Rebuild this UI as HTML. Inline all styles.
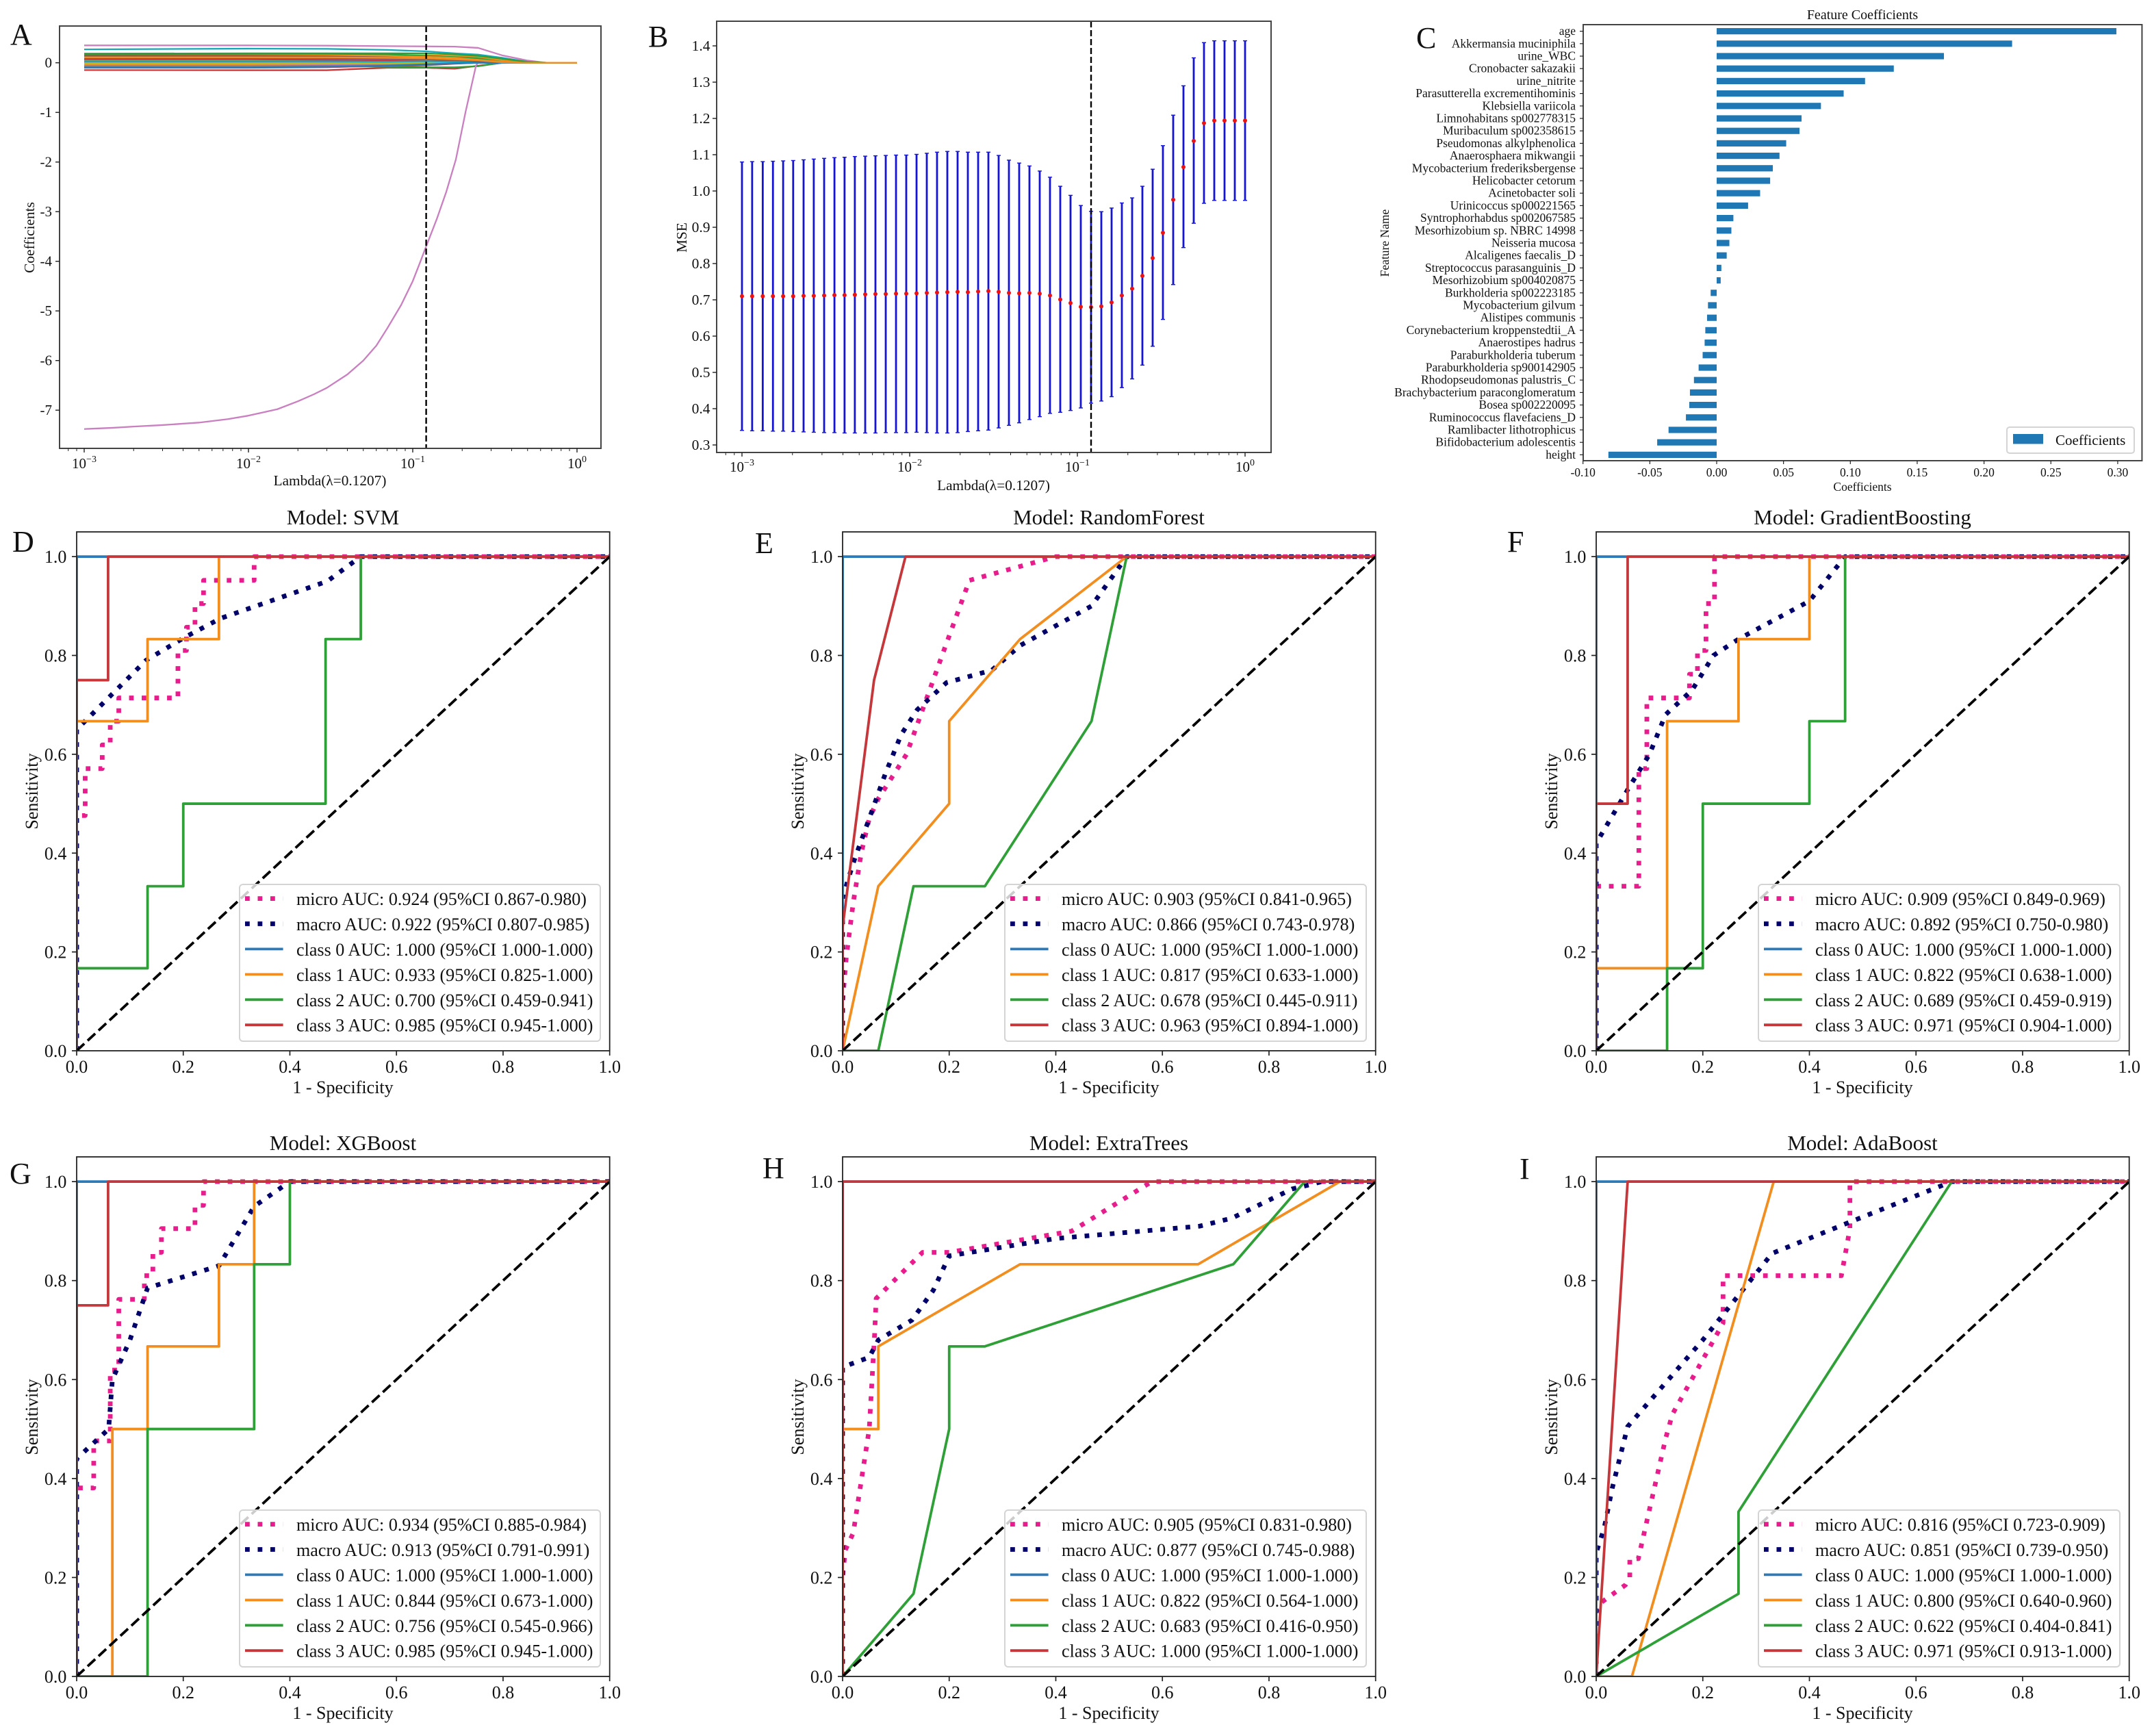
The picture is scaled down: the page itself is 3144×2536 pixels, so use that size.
<!DOCTYPE html>
<html lang="en">
<head>
<meta charset="utf-8">
<title>LASSO feature selection and ROC curves</title>
<style>
html,body{margin:0;padding:0;background:#fff;}
svg{display:block;}
text{font-family:"Liberation Serif","Times New Roman",serif;fill:#111;}
.letter{font-size:44px;}
.rt{font-size:31px;}
.rl{font-size:26px;}
.lg{font-size:26.1px;}
.ml{font-size:21.3px;}
.cl{font-size:17.5px;}
.mid{text-anchor:middle;}
.frame{fill:none;stroke:#222;}
.frame-top{fill:none;stroke:#444;}
.legend-box{fill:rgba(255,255,255,.8);stroke:#d4d4d4;stroke-width:2;}
</style>
</head>
<body>
<svg id="figure" xmlns="http://www.w3.org/2000/svg" width="3144" height="2536" viewBox="0 0 3144 2536">
<defs>
<clipPath id="clip-a"><rect x="87" y="38" width="791" height="617"/></clipPath>
<clipPath id="clip-roc-up"><rect x="0" y="-758" width="778.7" height="758"/></clipPath>
<clipPath id="clip-roc-low"><rect x="0" y="-759" width="778.7" height="759"/></clipPath>
<g id="legend-handles">
<line x1="8" x2="63.6" y1="20.6" y2="20.6" stroke="#e81c8c" stroke-width="6.8" stroke-dasharray="6.8 11.7"/>
<line x1="8" x2="63.6" y1="57.5" y2="57.5" stroke="#00006a" stroke-width="6.8" stroke-dasharray="6.8 11.7"/>
<line x1="8" x2="63.6" y1="94.4" y2="94.4" stroke="#2b7bba" stroke-width="3.8"/>
<line x1="8" x2="63.6" y1="131.4" y2="131.4" stroke="#f28e1f" stroke-width="3.8"/>
<line x1="8" x2="63.6" y1="168.3" y2="168.3" stroke="#2fa037" stroke-width="3.8"/>
<line x1="8" x2="63.6" y1="205.2" y2="205.2" stroke="#c5373b" stroke-width="3.8"/>
</g>
</defs>
<rect x="0" y="0" width="3144" height="2536" fill="#fff"/>

<!-- Panel A -->
<g>
<g id="a-marks" clip-path="url(#clip-a)"></g>
<rect class="frame-top" x="87" y="38" width="791" height="617" stroke-width="2"/>
<g id="a-axis"></g>
<text class="ml mid" x="482" y="709">Lambda(λ=0.1207)</text>
<text class="ml mid" x="50" y="347" transform="rotate(-90 50 347)">Coefficients</text>
<text class="letter" x="15" y="65">A</text>
</g>

<!-- Panel B -->
<g>
<g id="b-marks"></g>
<rect class="frame-top" x="1047" y="31" width="810" height="630" stroke-width="2"/>
<g id="b-axis"></g>
<text class="ml mid" x="1451.5" y="716">Lambda(λ=0.1207)</text>
<text class="ml mid" x="1003" y="347" transform="rotate(-90 1003 347)">MSE</text>
<text class="letter" x="947" y="68">B</text>
</g>

<!-- Panel C -->
<g>
<text class="mid" font-size="20" x="2721" y="28">Feature Coefficients</text>
<g id="c-marks"></g>
<rect class="frame-top" x="2313" y="36" width="816.4" height="637" stroke-width="2"/>
<g id="c-axis"></g>
<text class="cl mid" x="2721" y="717">Coefficients</text>
<text class="cl mid" x="2029" y="355" transform="rotate(-90 2029 355)">Feature Name</text>
<g>
<rect class="legend-box" x="2932" y="624" width="186" height="38" rx="4" stroke-width="1.5"/>
<rect x="2941" y="634" width="44" height="14.5" fill="#1f77b4"/>
<text font-size="21" x="3003" y="650">Coefficients</text>
</g>
<text class="letter" x="2069" y="70">C</text>
</g>

<!-- Panel D -->
<g transform="translate(112,1535)">
<text class="rt mid" x="389" y="-769">Model: SVM</text>
<g id="roc-d-marks" clip-path="url(#clip-roc-up)"></g>
<rect class="frame" x="0" y="-758" width="778.7" height="758" stroke-width="1.8"/>
<g id="roc-d-axis"></g>
<text class="rl mid" x="389" y="62">1 - Specificity</text>
<text class="rl mid" x="-57" y="-379" transform="rotate(-90 -57 -379)">Sensitivity</text>
<g transform="translate(238,-243)">
<rect class="legend-box" x="0" y="0" width="527" height="229" rx="5"/>
<use href="#legend-handles"/>
<text class="lg" x="83" y="30">micro AUC: 0.924 (95%CI 0.867-0.980)</text>
<text class="lg" x="83" y="67">macro AUC: 0.922 (95%CI 0.807-0.985)</text>
<text class="lg" x="83" y="104">class 0 AUC: 1.000 (95%CI 1.000-1.000)</text>
<text class="lg" x="83" y="141">class 1 AUC: 0.933 (95%CI 0.825-1.000)</text>
<text class="lg" x="83" y="178">class 2 AUC: 0.700 (95%CI 0.459-0.941)</text>
<text class="lg" x="83" y="214.5">class 3 AUC: 0.985 (95%CI 0.945-1.000)</text>
</g>
</g>
<text class="letter" x="18" y="806">D</text>

<!-- Panel E -->
<g transform="translate(1231,1535)">
<text class="rt mid" x="389" y="-769">Model: RandomForest</text>
<g id="roc-e-marks" clip-path="url(#clip-roc-up)"></g>
<rect class="frame" x="0" y="-758" width="778.7" height="758" stroke-width="1.8"/>
<g id="roc-e-axis"></g>
<text class="rl mid" x="389" y="62">1 - Specificity</text>
<text class="rl mid" x="-57" y="-379" transform="rotate(-90 -57 -379)">Sensitivity</text>
<g transform="translate(237,-243)">
<rect class="legend-box" x="0" y="0" width="528" height="229" rx="5"/>
<use href="#legend-handles"/>
<text class="lg" x="83" y="30">micro AUC: 0.903 (95%CI 0.841-0.965)</text>
<text class="lg" x="83" y="67">macro AUC: 0.866 (95%CI 0.743-0.978)</text>
<text class="lg" x="83" y="104">class 0 AUC: 1.000 (95%CI 1.000-1.000)</text>
<text class="lg" x="83" y="141">class 1 AUC: 0.817 (95%CI 0.633-1.000)</text>
<text class="lg" x="83" y="178">class 2 AUC: 0.678 (95%CI 0.445-0.911)</text>
<text class="lg" x="83" y="214.5">class 3 AUC: 0.963 (95%CI 0.894-1.000)</text>
</g>
</g>
<text class="letter" x="1103" y="808">E</text>

<!-- Panel F -->
<g transform="translate(2332,1535)">
<text class="rt mid" x="389" y="-769">Model: GradientBoosting</text>
<g id="roc-f-marks" clip-path="url(#clip-roc-up)"></g>
<rect class="frame" x="0" y="-758" width="778.7" height="758" stroke-width="1.8"/>
<g id="roc-f-axis"></g>
<text class="rl mid" x="389" y="62">1 - Specificity</text>
<text class="rl mid" x="-57" y="-379" transform="rotate(-90 -57 -379)">Sensitivity</text>
<g transform="translate(237,-243)">
<rect class="legend-box" x="0" y="0" width="528" height="229" rx="5"/>
<use href="#legend-handles"/>
<text class="lg" x="83" y="30">micro AUC: 0.909 (95%CI 0.849-0.969)</text>
<text class="lg" x="83" y="67">macro AUC: 0.892 (95%CI 0.750-0.980)</text>
<text class="lg" x="83" y="104">class 0 AUC: 1.000 (95%CI 1.000-1.000)</text>
<text class="lg" x="83" y="141">class 1 AUC: 0.822 (95%CI 0.638-1.000)</text>
<text class="lg" x="83" y="178">class 2 AUC: 0.689 (95%CI 0.459-0.919)</text>
<text class="lg" x="83" y="214.5">class 3 AUC: 0.971 (95%CI 0.904-1.000)</text>
</g>
</g>
<text class="letter" x="2202" y="806">F</text>

<!-- Panel G -->
<g transform="translate(112,2449)">
<text class="rt mid" x="389" y="-769">Model: XGBoost</text>
<g id="roc-g-marks" clip-path="url(#clip-roc-low)"></g>
<rect class="frame" x="0" y="-759" width="778.7" height="759" stroke-width="1.8"/>
<g id="roc-g-axis"></g>
<text class="rl mid" x="389" y="62">1 - Specificity</text>
<text class="rl mid" x="-57" y="-379" transform="rotate(-90 -57 -379)">Sensitivity</text>
<g transform="translate(238,-243)">
<rect class="legend-box" x="0" y="0" width="527" height="229" rx="5"/>
<use href="#legend-handles"/>
<text class="lg" x="83" y="30">micro AUC: 0.934 (95%CI 0.885-0.984)</text>
<text class="lg" x="83" y="67">macro AUC: 0.913 (95%CI 0.791-0.991)</text>
<text class="lg" x="83" y="104">class 0 AUC: 1.000 (95%CI 1.000-1.000)</text>
<text class="lg" x="83" y="141">class 1 AUC: 0.844 (95%CI 0.673-1.000)</text>
<text class="lg" x="83" y="178">class 2 AUC: 0.756 (95%CI 0.545-0.966)</text>
<text class="lg" x="83" y="214.5">class 3 AUC: 0.985 (95%CI 0.945-1.000)</text>
</g>
</g>
<text class="letter" x="14" y="1729">G</text>

<!-- Panel H -->
<g transform="translate(1231,2449)">
<text class="rt mid" x="389" y="-769">Model: ExtraTrees</text>
<g id="roc-h-marks" clip-path="url(#clip-roc-low)"></g>
<rect class="frame" x="0" y="-759" width="778.7" height="759" stroke-width="1.8"/>
<g id="roc-h-axis"></g>
<text class="rl mid" x="389" y="62">1 - Specificity</text>
<text class="rl mid" x="-57" y="-379" transform="rotate(-90 -57 -379)">Sensitivity</text>
<g transform="translate(237,-243)">
<rect class="legend-box" x="0" y="0" width="528" height="229" rx="5"/>
<use href="#legend-handles"/>
<text class="lg" x="83" y="30">micro AUC: 0.905 (95%CI 0.831-0.980)</text>
<text class="lg" x="83" y="67">macro AUC: 0.877 (95%CI 0.745-0.988)</text>
<text class="lg" x="83" y="104">class 0 AUC: 1.000 (95%CI 1.000-1.000)</text>
<text class="lg" x="83" y="141">class 1 AUC: 0.822 (95%CI 0.564-1.000)</text>
<text class="lg" x="83" y="178">class 2 AUC: 0.683 (95%CI 0.416-0.950)</text>
<text class="lg" x="83" y="214.5">class 3 AUC: 1.000 (95%CI 1.000-1.000)</text>
</g>
</g>
<text class="letter" x="1114" y="1721">H</text>

<!-- Panel I -->
<g transform="translate(2332,2449)">
<text class="rt mid" x="389" y="-769">Model: AdaBoost</text>
<g id="roc-i-marks" clip-path="url(#clip-roc-low)"></g>
<rect class="frame" x="0" y="-759" width="778.7" height="759" stroke-width="1.8"/>
<g id="roc-i-axis"></g>
<text class="rl mid" x="389" y="62">1 - Specificity</text>
<text class="rl mid" x="-57" y="-379" transform="rotate(-90 -57 -379)">Sensitivity</text>
<g transform="translate(237,-243)">
<rect class="legend-box" x="0" y="0" width="528" height="229" rx="5"/>
<use href="#legend-handles"/>
<text class="lg" x="83" y="30">micro AUC: 0.816 (95%CI 0.723-0.909)</text>
<text class="lg" x="83" y="67">macro AUC: 0.851 (95%CI 0.739-0.950)</text>
<text class="lg" x="83" y="104">class 0 AUC: 1.000 (95%CI 1.000-1.000)</text>
<text class="lg" x="83" y="141">class 1 AUC: 0.800 (95%CI 0.640-0.960)</text>
<text class="lg" x="83" y="178">class 2 AUC: 0.622 (95%CI 0.404-0.841)</text>
<text class="lg" x="83" y="214.5">class 3 AUC: 0.971 (95%CI 0.913-1.000)</text>
</g>
</g>
<text class="letter" x="2220" y="1722">I</text>
</svg>

<script>
// ---------- Panel A data ----------
const coefLambdaGrid = [0.001,0.01,0.03,0.07,0.1207,0.18,0.25,0.35,0.5,0.65,1];
const coefPaths = [
[.12,.12,.11,.10,.07,.05,.03,.01,0,0,0],
[.16,.16,.16,.16,.15,.14,.12,.05,.01,0,0],
[.17,.18,.18,.17,.14,.115,.09,.02,0,0,0],
[-.147,-.15,-.15,-.10,-.10,-.12,-.06,0,0,0,0],
[.09,.09,.08,.07,.05,.02,0,0,0,0,0],
[-.08,-.08,-.08,-.07,-.05,-.02,0,0,0,0,0],
[.35,.35,.345,.335,.33,.325,.30,.15,.045,0,0],
[.06,.06,.06,.05,.03,.01,0,0,0,0,0],
[.02,.02,.02,.01,0,0,0,0,0,0,0],
[.27,.285,.28,.26,.23,.19,.165,.10,.02,0,0],
[.04,.04,.04,.03,.01,0,0,0,0,0,0],
[.13,.13,.13,.13,.12,.10,.06,.02,0,0,0],
[-.04,-.04,-.06,-.08,-.09,-.09,-.07,0,0,0,0],
[-.10,-.10,-.09,-.06,-.03,-.01,0,0,0,0,0],
[.08,.08,.07,.06,.04,.02,0,0,0,0,0],
[.10,.10,.10,.09,.07,.04,.01,0,0,0,0],
[-.02,-.02,-.02,-.01,0,0,0,0,0,0,0],
[.05,.05,.04,.03,.01,0,0,0,0,0,0],
[.02,.02,.02,.01,.01,0,0,0,0,0,0],
[-.05,-.05,-.05,-.04,-.02,0,0,0,0,0,0],
[-.03,-.03,-.03,-.02,-.01,0,0,0,0,0,0],
[.185,.19,.19,.19,.19,.17,.14,.08,.02,0,0],
[.07,.07,.06,.05,.03,.01,0,0,0,0,0],
[.01,.01,.01,.01,0,0,0,0,0,0,0],
[.14,.14,.13,.11,.08,.05,.02,0,0,0,0],
[-.06,-.06,-.05,-.04,-.02,0,0,0,0,0,0],
[-.07,-.07,-.06,-.05,-.03,-.01,0,0,0,0,0],
[-.01,-.01,-.01,-.01,0,0,0,0,0,0,0],
[.03,.03,.03,.02,.03,.02,0,0,0,0,0],
[-.095,-.095,-.08,-.06,-.03,-.01,0,0,0,0,0],
[.11,.11,.11,.10,.09,.07,.05,.01,0,0,0]
];
const heightLambda = [0.001,0.0015,0.002,0.003,0.005,0.0075,0.01,0.015,0.02,0.025,0.03,0.04,0.05,0.06,0.07,0.085,0.1,0.11,0.1207,0.14,0.16,0.183,0.21,0.243,0.25,0.3,1];
const heightCoef = [-7.38,-7.355,-7.33,-7.3,-7.25,-7.18,-7.11,-6.98,-6.82,-6.68,-6.55,-6.28,-6,-5.7,-5.35,-4.88,-4.4,-4.05,-3.7,-3.15,-2.6,-1.95,-0.98,-0.05,0,0,0];
const lambdaSelected = [0.1207];
const logExponents = [-3,-2,-1,0];
const logExponentLabels = ['−3','−2','−1','0'];
const aYTicks = [0,-1,-2,-3,-4,-5,-6,-7];
const aYTickLabels = ['0','-1','-2','-3','-4','-5','-6','-7'];

// ---------- Panel B data ----------
const mseLambda = [0.00100,0.00115,0.00133,0.00153,0.00176,0.00202,0.00233,0.00268,0.00309,0.00356,0.00409,0.00471,0.00543,0.00625,0.00720,0.00829,0.00954,0.01099,0.01265,0.01456,0.01677,0.01931,0.02223,0.02560,0.02947,0.03393,0.03907,0.04498,0.05179,0.05964,0.06866,0.07906,0.09103,0.10481,0.12068,0.13895,0.15999,0.18421,0.21210,0.24421,0.28118,0.32375,0.37276,0.42919,0.49417,0.56899,0.65513,0.75431,0.86851,1.0];
const mseMean = [.710,.710,.710,.710,.710,.710,.711,.711,.712,.713,.713,.714,.715,.716,.716,.717,.717,.718,.719,.720,.721,.722,.721,.723,.724,.722,.719,.718,.719,.717,.712,.701,.691,.681,.680,.682,.693,.712,.731,.766,.815,.885,.976,1.066,1.138,1.187,1.194,1.194,1.194,1.194];
const mseUpper = [1.080,1.081,1.081,1.082,1.083,1.084,1.086,1.088,1.090,1.092,1.093,1.095,1.096,1.097,1.098,1.099,1.099,1.101,1.104,1.107,1.109,1.109,1.107,1.107,1.107,1.098,1.085,1.077,1.069,1.055,1.038,1.013,.988,.960,.944,.943,.953,.967,.981,1.013,1.060,1.125,1.209,1.290,1.367,1.409,1.414,1.414,1.414,1.414];
const mseLower = [.340,.339,.339,.338,.338,.337,.336,.335,.334,.334,.333,.333,.333,.333,.334,.334,.334,.335,.334,.333,.333,.334,.337,.339,.341,.347,.354,.361,.370,.378,.387,.390,.395,.402,.415,.421,.433,.458,.482,.520,.572,.646,.742,.844,.911,.966,.974,.974,.974,.974];
const bYTicks = [0.3,0.4,0.5,0.6,0.7,0.8,0.9,1.0,1.1,1.2,1.3,1.4];
const bYTickLabels = ['0.3','0.4','0.5','0.6','0.7','0.8','0.9','1.0','1.1','1.2','1.3','1.4'];

// ---------- Panel C data ----------
const featureNames = ['age','Akkermansia muciniphila','urine_WBC','Cronobacter sakazakii','urine_nitrite','Parasutterella excrementihominis','Klebsiella variicola','Limnohabitans sp002778315','Muribaculum sp002358615','Pseudomonas alkylphenolica','Anaerosphaera mikwangii','Mycobacterium frederiksbergense','Helicobacter cetorum','Acinetobacter soli','Urinicoccus sp000221565','Syntrophorhabdus sp002067585','Mesorhizobium sp. NBRC 14998','Neisseria mucosa','Alcaligenes faecalis_D','Streptococcus parasanguinis_D','Mesorhizobium sp004020875','Burkholderia sp002223185','Mycobacterium gilvum','Alistipes communis','Corynebacterium kroppenstedtii_A','Anaerostipes hadrus','Paraburkholderia tuberum','Paraburkholderia sp900142905','Rhodopseudomonas palustris_C','Brachybacterium paraconglomeratum','Bosea sp002220095','Ruminococcus flavefaciens_D','Ramlibacter lithotrophicus','Bifidobacterium adolescentis','height'];
const featureCoefs = [.299,.221,.170,.1325,.111,.095,.078,.0635,.062,.052,.047,.042,.040,.0325,.0235,.0125,.011,.0095,.0075,.0035,.003,-.0045,-.0065,-.0072,-.0085,-.009,-.0105,-.0135,-.017,-.020,-.0205,-.023,-.036,-.0445,-.081];
const cXTicks = [-0.10,-0.05,0,0.05,0.10,0.15,0.20,0.25,0.30];
const cXTickLabels = ['-0.10','-0.05','0.00','0.05','0.10','0.15','0.20','0.25','0.30'];

// ---------- ROC data ----------
const rocTicks = [0,0.2,0.4,0.6,0.8,1];
const rocTickLabels = ['0.0','0.2','0.4','0.6','0.8','1.0'];
const diagonal = [[0,0],[1,1]];
const class0Perfect = [[0,0],[0,1],[1,1]];

const svmMicro = [[0,0],[0,.476],[.016,.476],[.016,.571],[.048,.571],[.048,.619],[.063,.619],[.063,.667],[.079,.667],[.079,.714],[.19,.714],[.19,.81],[.206,.81],[.206,.857],[.222,.857],[.222,.905],[.238,.905],[.238,.952],[.333,.952],[.333,1],[1,1]];
const svmMacro = [[0,0],[0,.65],[.13,.79],[.2,.835],[.27,.875],[.47,.95],[.533,1],[1,1]];
const svmClass1 = [[0,0],[0,.667],[.133,.667],[.133,.833],[.267,.833],[.267,1],[1,1]];
const svmClass2 = [[0,0],[0,.167],[.133,.167],[.133,.333],[.2,.333],[.2,.5],[.467,.5],[.467,.833],[.533,.833],[.533,1],[1,1]];
const svmClass3 = [[0,0],[0,.75],[.059,.75],[.059,1],[1,1]];

const rfMicro = [[0,0],[0,.1],[.007,.19],[.02,.3],[.035,.4],[.05,.47],[.067,.51],[.12,.6],[.15,.69],[.19,.81],[.238,.952],[.4,1],[1,1]];
const rfMacro = [[0,0],[0,.31],[.02,.38],[.05,.47],[.08,.56],[.11,.64],[.14,.69],[.195,.745],[.28,.77],[.333,.82],[.467,.9],[.533,1],[1,1]];
const rfClass1 = [[0,0],[.067,.333],[.2,.5],[.2,.667],[.333,.833],[.533,1],[1,1]];
const rfClass2 = [[0,0],[.067,0],[.133,.333],[.267,.333],[.467,.667],[.533,1],[1,1]];
const rfClass3 = [[0,0],[0,.25],[.059,.75],[.118,1],[1,1]];

const gbMicro = [[0,0],[0,.333],[.08,.333],[.08,.571],[.095,.571],[.095,.714],[.175,.714],[.175,.762],[.19,.762],[.19,.81],[.206,.81],[.206,.905],[.222,.905],[.222,1],[1,1]];
const gbMacro = [[0,0],[0,.42],[.06,.53],[.1,.6],[.13,.68],[.18,.73],[.22,.8],[.267,.833],[.4,.91],[.467,1],[1,1]];
const gbClass1 = [[0,0],[0,.167],[.133,.167],[.133,.667],[.267,.667],[.267,.833],[.4,.833],[.4,1],[1,1]];
const gbClass2 = [[0,0],[.133,0],[.133,.167],[.2,.167],[.2,.5],[.4,.5],[.4,.667],[.467,.667],[.467,1],[1,1]];
const gbClass3 = [[0,0],[0,.5],[.059,.5],[.059,1],[1,1]];

const xgbMicro = [[0,0],[0,.381],[.032,.381],[.032,.476],[.063,.476],[.063,.619],[.079,.619],[.079,.762],[.127,.762],[.127,.81],[.143,.81],[.143,.857],[.159,.857],[.159,.905],[.222,.905],[.222,.952],[.238,.952],[.238,1],[1,1]];
const xgbMacro = [[0,0],[0,.44],[.06,.5],[.067,.6],[.1,.68],[.133,.785],[.267,.83],[.333,.95],[.4,1],[1,1]];
const xgbClass1 = [[0,0],[.067,0],[.067,.5],[.133,.5],[.133,.667],[.267,.667],[.267,.833],[.333,.833],[.333,1],[1,1]];
const xgbClass2 = [[0,0],[.133,0],[.133,.5],[.333,.5],[.333,.833],[.4,.833],[.4,1],[1,1]];
const xgbClass3 = [[0,0],[0,.75],[.059,.75],[.059,1],[1,1]];

const etMicro = [[0,0],[0,.2],[.005,.255],[.02,.29],[.05,.5],[.06,.69],[.063,.764],[.15,.857],[.2,.857],[.43,.9],[.58,1],[1,1]];
const etMacro = [[0,0],[0,.625],[.05,.645],[.067,.68],[.13,.72],[.17,.78],[.2,.85],[.4,.885],[.67,.91],[.73,.926],[.843,.985],[.9,1],[1,1]];
const etClass1 = [[0,0],[0,.5],[.067,.5],[.067,.667],[.333,.833],[.667,.833],[.933,1],[1,1]];
const etClass2 = [[0,0],[.133,.167],[.2,.5],[.2,.667],[.267,.667],[.733,.833],[.867,1],[1,1]];
const etClass3 = [[0,0],[0,1],[1,1]];

const adaMicro = [[0,0],[0,.13],[.01,.15],[.055,.185],[.063,.2],[.063,.238],[.079,.238],[.13,.48],[.143,.53],[.238,.714],[.238,.81],[.46,.81],[.476,.905],[.476,1],[1,1]];
const adaMacro = [[0,0],[0,.25],[.015,.3],[.03,.38],[.059,.505],[.2,.68],[.33,.855],[.48,.92],[.667,1],[1,1]];
const adaClass1 = [[0,0],[.067,0],[.333,1],[1,1]];
const adaClass2 = [[0,0],[.267,.167],[.267,.333],[.667,1],[1,1]];
const adaClass3 = [[0,0],[.059,1],[1,1]];

// ---------- helpers ----------
const NS = 'http://www.w3.org/2000/svg';
const pathColors = ['#2b7bba','#f28e1f','#2fa037','#c5373b','#8f69ad','#8c564b','#c97fc0','#7f7f7f','#bcbd22','#17a7b8'];
function mk(parent, tag, attrs, txt) {
  const el = document.createElementNS(NS, tag);
  for (const k in attrs) { el.setAttribute(k, attrs[k]); }
  if (txt !== undefined) { el.textContent = txt; }
  parent.appendChild(el);
  return el;
}
function pathFrom(pts, xf, yf) {
  return pts.map(function (p, i) { return (i ? 'L' : 'M') + xf(p[0]).toFixed(2) + ' ' + yf(p[1]).toFixed(2); }).join('');
}

// ---------- Panel A ----------
(function () {
  const xA = function (l) { return 843 + Math.log10(l) * 240; };
  const yA = function (v) { return 91.7 - v * 72.5; };
  const marks = document.getElementById('a-marks');
  const axis = document.getElementById('a-axis');
  const smallDrawOrder = coefPaths.length + 1;
  let series = 0;
  for (let i = 0; i < smallDrawOrder; i++) {
    let pts;
    if (i === 16) {
      pts = heightLambda.map(function (l, j) { return [l, heightCoef[j]]; });
    } else {
      const row = coefPaths[series++];
      pts = coefLambdaGrid.map(function (l, j) { return [l, row[j]]; });
    }
    const line = mk(marks, 'path', { d: pathFrom(pts, xA, yA), fill: 'none', stroke: pathColors[i % 10], 'stroke-width': 2.3, 'stroke-linejoin': 'round' });
    
    
  }
  const vl = mk(marks, 'line', { x1: xA(lambdaSelected[0]), x2: xA(lambdaSelected[0]), y1: 38, y2: 655, stroke: '#000', 'stroke-width': 2.4, 'stroke-dasharray': '9 4' });
  
  
  logExponents.forEach(function (e, i) {
    const tick = mk(axis, 'line', { x1: xA(Math.pow(10, e)), x2: xA(Math.pow(10, e)), y1: 655, y2: 661, stroke: '#222', 'stroke-width': 1.4 });
    
    
    const lab = mk(axis, 'text', { x: xA(Math.pow(10, e)), y: 684, 'text-anchor': 'middle', 'font-size': 21 }, '10');
    
    
    mk(lab, 'tspan', { dy: -9, 'font-size': 14 }, logExponentLabels[i]);
  });
  for (let e = -4; e <= 0; e++) {
    for (let m = 2; m <= 9; m++) {
      const px = xA(m * Math.pow(10, e));
      if (px < 87 || px > 878) { continue; }
      const minor = mk(axis, 'line', { x1: px, x2: px, y1: 655, y2: 659, stroke: '#222', 'stroke-width': 1 });
      
      
    }
  }
  aYTicks.forEach(function (v, i) {
    const tick = mk(axis, 'line', { x1: 81, x2: 87, y1: yA(v), y2: yA(v), stroke: '#222', 'stroke-width': 1.4 });
    
    
    const lab = mk(axis, 'text', { x: 76, y: yA(v) + 7, 'text-anchor': 'end', 'font-size': 21 }, aYTickLabels[i]);
    
    
  });
})();

// ---------- Panel B ----------
(function () {
  const xB = function (l) { return 1819 + Math.log10(l) * 245; };
  const yB = function (v) { return 650 - (v - 0.3) * 530; };
  const marks = document.getElementById('b-marks');
  const axis = document.getElementById('b-axis');
  mseLambda.forEach(function (l, i) {
    const bar = mk(marks, 'line', { x1: xB(l), x2: xB(l), y1: yB(mseUpper[i]), y2: yB(mseLower[i]), stroke: '#1414d2', 'stroke-width': 2.8 });
    
    
    const capU = mk(marks, 'line', { x1: xB(l) - 3, x2: xB(l) + 3, y1: yB(mseUpper[i]), y2: yB(mseUpper[i]), stroke: '#1414d2', 'stroke-width': 1.4 });
    
    
    const capL = mk(marks, 'line', { x1: xB(l) - 3, x2: xB(l) + 3, y1: yB(mseLower[i]), y2: yB(mseLower[i]), stroke: '#1414d2', 'stroke-width': 1.4 });
    
    
  });
  mseLambda.forEach(function (l, i) {
    const dot = mk(marks, 'circle', { cx: xB(l), cy: yB(mseMean[i]), r: 3, fill: '#ee1111' });
    
    
  });
  const vl = mk(marks, 'line', { x1: xB(lambdaSelected[0]), x2: xB(lambdaSelected[0]), y1: 31, y2: 661, stroke: '#000', 'stroke-width': 2.4, 'stroke-dasharray': '9 4' });
  
  
  logExponents.forEach(function (e, i) {
    const tick = mk(axis, 'line', { x1: xB(Math.pow(10, e)), x2: xB(Math.pow(10, e)), y1: 661, y2: 667, stroke: '#222', 'stroke-width': 1.4 });
    
    
    const lab = mk(axis, 'text', { x: xB(Math.pow(10, e)), y: 689, 'text-anchor': 'middle', 'font-size': 21 }, '10');
    
    
    mk(lab, 'tspan', { dy: -9, 'font-size': 14 }, logExponentLabels[i]);
  });
  for (let e = -4; e <= 0; e++) {
    for (let m = 2; m <= 9; m++) {
      const px = xB(m * Math.pow(10, e));
      if (px < 1047 || px > 1857) { continue; }
      const minor = mk(axis, 'line', { x1: px, x2: px, y1: 661, y2: 665, stroke: '#222', 'stroke-width': 1 });
      
      
    }
  }
  bYTicks.forEach(function (v, i) {
    const tick = mk(axis, 'line', { x1: 1041, x2: 1047, y1: yB(v), y2: yB(v), stroke: '#222', 'stroke-width': 1.4 });
    
    
    const lab = mk(axis, 'text', { x: 1037.5, y: yB(v) + 7, 'text-anchor': 'end', 'font-size': 21.5 }, bYTickLabels[i]);
    
    
  });
})();

// ---------- Panel C ----------
(function () {
  const xC = function (v) { return 2508 + v * 1953; };
  const yC = function (i) { return 45.6 + i * 18.2; };
  const marks = document.getElementById('c-marks');
  const axis = document.getElementById('c-axis');
  featureCoefs.forEach(function (v, i) {
    const x0 = Math.min(xC(0), xC(v));
    const bar = mk(marks, 'rect', { x: x0, y: yC(i) - 4.6, width: Math.abs(xC(v) - xC(0)), height: 9.2, fill: '#1f77b4' });
    
    
    const tick = mk(axis, 'line', { x1: 2308, x2: 2313, y1: yC(i), y2: yC(i), stroke: '#222', 'stroke-width': 1.2 });
    
    
    const lab = mk(axis, 'text', { x: 2302, y: yC(i) + 5.5, 'text-anchor': 'end', 'font-size': 17.5 }, featureNames[i]);
    
    
  });
  cXTicks.forEach(function (v, i) {
    const tick = mk(axis, 'line', { x1: xC(v), x2: xC(v), y1: 673, y2: 678, stroke: '#222', 'stroke-width': 1.2 });
    
    
    const lab = mk(axis, 'text', { x: xC(v), y: 696, 'text-anchor': 'middle', 'font-size': 17.5 }, cXTickLabels[i]);
    
    
  });
})();

// ---------- ROC panels ----------
const rocWidth = 778.7;
const rocColors = ['#e81c8c','#00006a','#2b7bba','#f28e1f','#2fa037','#c5373b'];
const rocSeriesNames = ['micro','macro','class-0','class-1','class-2','class-3'];
function drawRoc(key, plotHeight, curves) {
  const xR = function (v) { return v * rocWidth; };
  const yR = function (v) { return -v * plotHeight / 1.05; };
  const marks = document.getElementById('roc-' + key + '-marks');
  const axis = document.getElementById('roc-' + key + '-axis');
  curves.forEach(function (pts, i) {
    const attrs = { d: pathFrom(pts, xR, yR), fill: 'none', stroke: rocColors[i], 'stroke-linejoin': 'round' };
    if (i < 2) {
      attrs['stroke-width'] = 6.8;
      attrs['stroke-dasharray'] = '6.8 11.7';
    } else {
      attrs['stroke-width'] = 3.8;
    }
    const curve = mk(marks, 'path', attrs);
    
    
  });
  const diag = mk(marks, 'path', { d: pathFrom(diagonal, xR, yR), fill: 'none', stroke: '#000', 'stroke-width': 3.8, 'stroke-dasharray': '15.2 6.6' });
  
  
  rocTicks.forEach(function (v, i) {
    const xt = mk(axis, 'line', { x1: xR(v), x2: xR(v), y1: 0, y2: 7, stroke: '#222', 'stroke-width': 1.7 });
    
    
    const xl = mk(axis, 'text', { x: xR(v), y: 32, 'text-anchor': 'middle', 'font-size': 26 }, rocTickLabels[i]);
    
    
    const yt = mk(axis, 'line', { x1: -7, x2: 0, y1: yR(v), y2: yR(v), stroke: '#222', 'stroke-width': 1.7 });
    
    
    const yl = mk(axis, 'text', { x: -14.6, y: yR(v) + 9, 'text-anchor': 'end', 'font-size': 26 }, rocTickLabels[i]);
    
    
  });
}
drawRoc('d', 758, [svmMicro, svmMacro, class0Perfect, svmClass1, svmClass2, svmClass3]);
drawRoc('e', 758, [rfMicro, rfMacro, class0Perfect, rfClass1, rfClass2, rfClass3]);
drawRoc('f', 758, [gbMicro, gbMacro, class0Perfect, gbClass1, gbClass2, gbClass3]);
drawRoc('g', 759, [xgbMicro, xgbMacro, class0Perfect, xgbClass1, xgbClass2, xgbClass3]);
drawRoc('h', 759, [etMicro, etMacro, class0Perfect, etClass1, etClass2, etClass3]);
drawRoc('i', 759, [adaMicro, adaMacro, class0Perfect, adaClass1, adaClass2, adaClass3]);
</script>
</body>
</html>
